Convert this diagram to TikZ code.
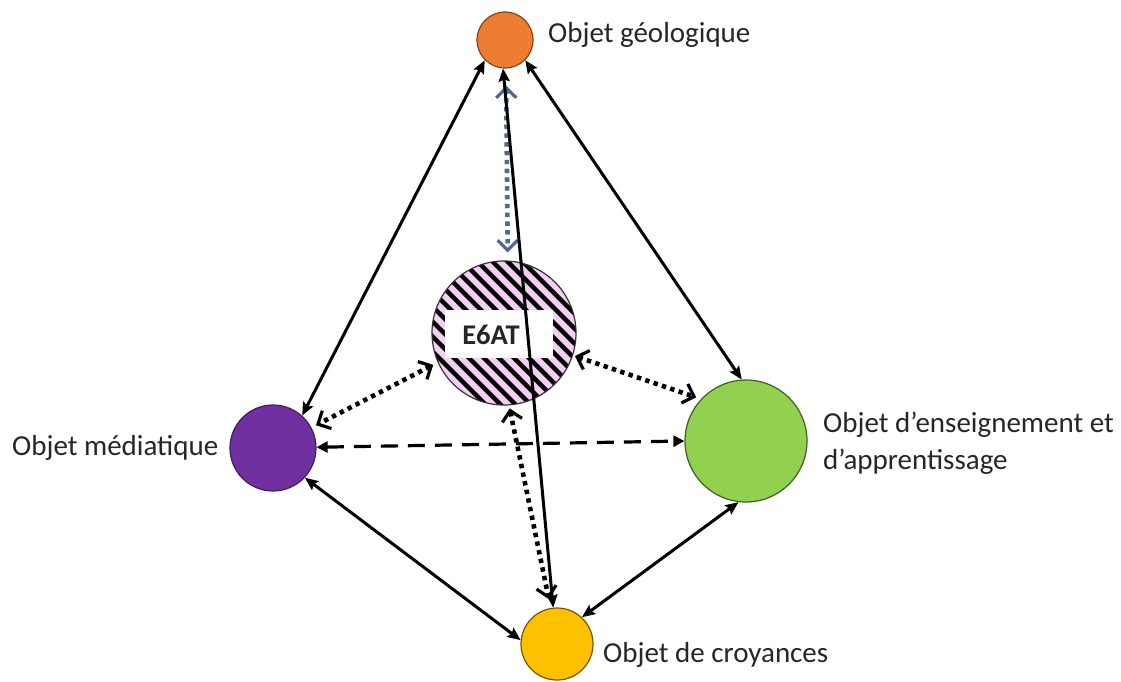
\documentclass[tikz,border=0pt]{standalone}
\usepackage{fontspec}
\setmainfont{Carlito}
\usetikzlibrary{arrows.meta}
\definecolor{cOrange}{HTML}{ED7D31}
\definecolor{cPurple}{HTML}{7030A0}
\definecolor{cGreen}{HTML}{92D050}
\definecolor{cYellow}{HTML}{FFC000}
\definecolor{cPink}{HTML}{F4CFF4}
\definecolor{cSlate}{HTML}{4F6A8C}
\definecolor{cText}{HTML}{262626}
\begin{document}
\begin{tikzpicture}[x=1pt,y=-1pt,
  obj/.style={circle, inner sep=0pt, line width=1.2pt},
  lab/.style={inner sep=0pt, text=cText, font=\fontsize{29}{37}\selectfont, anchor=base west, align=left},
  stl/.tip={Stealth[length=13pt,width=11pt,inset=2pt]},
  brb/.tip={Straight Barb[length=10pt,width=20pt,line width=3.2pt]},
  tri/.tip={Triangle[length=11pt,width=11pt]},
  solidlink/.style={line width=3pt, stl-stl},
  dottedlink/.style={line width=4.6pt, dash pattern=on 4.4pt off 4.4pt, brb-brb},
  dashedlink/.style={line width=3.2pt, dash pattern=on 17pt off 10pt, tri-tri}
]
\useasboundingbox (0,0) rectangle (1121,682);
\fill[white] (0,0) rectangle (1121,682);

% outer objects
\node[obj, fill=cOrange, draw=cOrange!55!black, minimum size=56pt] (geo) at (505,40) {};
\node[obj, fill=cPurple, draw=cPurple!60!black, minimum size=86pt] (med) at (273,448) {};
\node[obj, fill=cGreen, draw=cGreen!45!black, minimum size=122pt] (ens) at (746,441) {};
\node[obj, fill=cYellow, draw=cYellow!45!black, minimum size=72pt] (cro) at (557,644) {};

% central hatched object
\fill[cPink] (504,333) circle (72);
\begin{scope}
  \clip (504,333) circle (72);
  \foreach \c in {-240,-225,...,240}
    \draw[line width=4.4pt, black] (504+\c-90,333-90) -- (504+\c+90,333+90);
\end{scope}
\node[obj, draw=black!80, minimum size=144pt] (e6at) at (504,333) {};
\node[fill=white, inner sep=0pt, minimum width=108pt, minimum height=48pt] (e6box) at (499,334) {};
\node[inner sep=0pt, text=cText, font=\fontsize{28.5}{32}\selectfont\bfseries] (e6lab) at (491,335) {E6AT};

% labels
\node[lab] (lgeo) at (548,43) {Objet géologique};
\node[lab] (lmed) at (12,455) {Objet médiatique};
\node[lab] (lens) at (823,469) {Objet d’enseignement et\\d’apprentissage};
\node[lab] (lcro) at (603,662) {Objet de croyances};

% solid links
\draw[solidlink] (geo.-135) -- (med.48);
\draw[solidlink] (geo.-45) -- (ens.94);
\draw[solidlink] (med.-43) -- (cro.174);
\draw[solidlink] (ens.-97) -- (cro.47);

% dashed link
\draw[dashedlink] (med.1) -- (ens.180);

% dotted links
\draw[dottedlink, color=cSlate, shorten <=17pt, shorten >=8pt] (geo.-88) -- (e6at.87);
\draw[dottedlink, shorten <=5pt, shorten >=5pt] (e6at.204) -- (med.28);
\draw[dottedlink, shorten <=2pt, shorten >=5pt] (e6at.-18) -- (ens.137);
\draw[dottedlink, shorten <=3pt, shorten >=9pt] (e6at.-86) -- (cro.100);

% long solid link on top
\draw[solidlink] (geo.-94) -- (cro.96);
\end{tikzpicture}
\end{document}
